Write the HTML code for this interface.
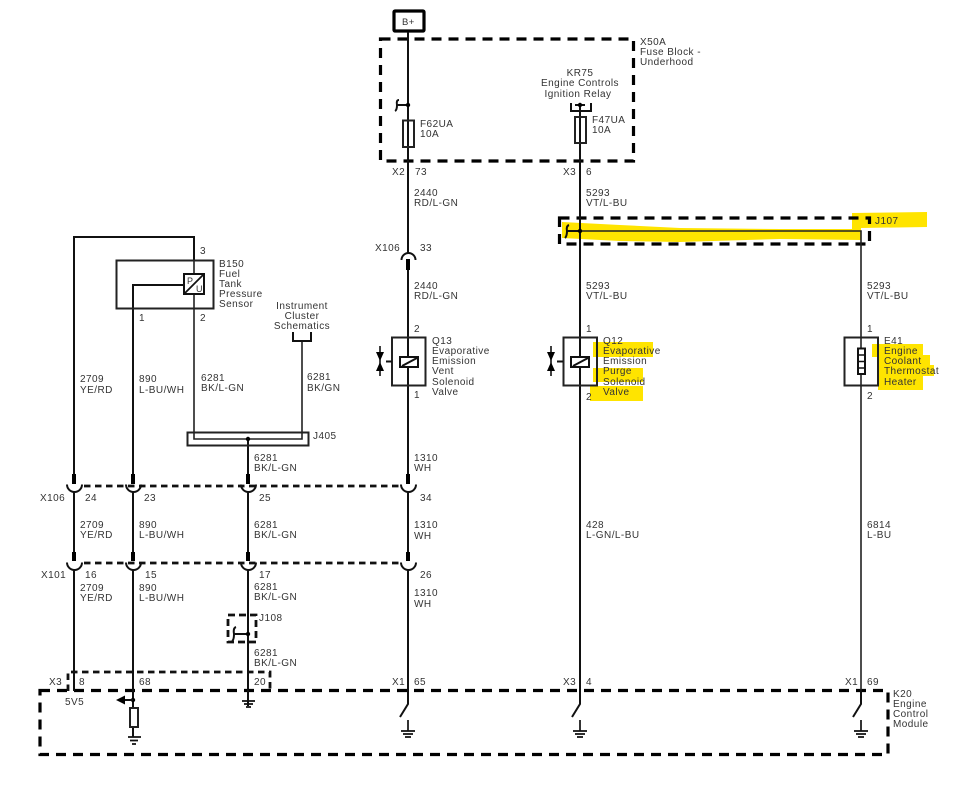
<!DOCTYPE html>
<html><head><meta charset="utf-8"><style>
html,body{margin:0;padding:0;background:#fff;width:965px;height:797px;overflow:hidden}
svg{display:block}
text{font-family:"Liberation Sans",sans-serif;font-size:10px;letter-spacing:.45px;fill:#333}
.m{text-anchor:middle}
.w{stroke:#111;stroke-width:2;fill:none}
.t{stroke:#222;stroke-width:1.6;fill:none}
.x{stroke:#222;stroke-width:2;fill:none}
.b{stroke:#222;stroke-width:2;fill:#fff}
.d{stroke:#000;stroke-width:3.2;fill:none;stroke-dasharray:10 7}
.s{stroke:#111;stroke-width:2.8;fill:none;stroke-dasharray:6.500 4.500}
.c{stroke:#111;stroke-width:2;fill:none}
.k{stroke:#000;stroke-width:4;fill:none}
</style></head><body>
<svg width="965" height="797" viewBox="0 0 965 797" xmlns="http://www.w3.org/2000/svg">
<!-- highlights -->
<g fill="#ffe400">
<polygon points="562,222 620,225 680,228 780,229 852,229 852,213 927,212 927,227 861,228 861,240 780,239 680,242 620,241 562,238"/>
<rect x="593" y="342" width="60" height="15"/>
<rect x="593" y="368" width="50" height="14"/>
<rect x="590" y="386" width="53" height="15"/>
<polygon points="872,344 923,344 923,355 930,355 930,365 934,365 934,376 923,376 923,390 878,390 878,370 877,357 872,357"/>
</g>
<!-- module outlines -->
<rect class="d" x="380.500" y="39" width="253" height="122"/>
<rect class="d" x="559.500" y="218" width="310" height="26"/>
<rect class="d" x="40" y="690.500" width="848" height="64"/>
<path class="s" d="M68 691V672H270V689"/>
<rect class="s" x="228" y="615" width="28" height="27" style="stroke-dasharray:7 4"/>
<path class="s" d="M84 486H401M84 563H401"/>
<!-- B+ -->
<rect x="394" y="11" width="30" height="20" rx="1" fill="#fff" stroke="#000" stroke-width="3.2"/>
<text x="402" y="25" style="font-size:9.500px">B+</text>
<!-- main wires -->
<path class="w" d="M408 32V253M408 270V484M408 492V561M408 570V704L400 717"/>
<path class="w" d="M580 105V704L572 717"/>
<path class="t" d="M580 231H861V704"/>
<path class="w" d="M861 690V704L853 717"/>
<path class="w" d="M74 476V237H194V260"/>
<path class="t" d="M194 260V439H302V341"/>
<path class="w" d="M133 476V285H184"/>
<path class="w" d="M248 439V476M248 492V552M248 570V706"/>
<path class="w" d="M74 492V552M74 570V691"/>
<path class="w" d="M133 492V552M133 570V737"/>
<!-- stubs -->
<path class="k" d="M74 474V484M133 474V484M248 474V484M408 474V484M74 552V561M133 552V561M248 552V561M408 552V561M408 259V270"/>
<!-- fuses -->
<rect class="b" x="403" y="120.500" width="11" height="26.500" style="fill:none"/>
<rect class="b" x="575" y="117" width="11" height="26" style="fill:none"/>
<path class="c" d="M571 111V103M570 111H591V103M575 105H585"/>
<path class="c" d="M397 105H408M399 100Q396 100 397 105Q397 110 395 111"/>
<path class="c" d="M567 231H580M569 225Q566 226 567 231Q567 236 565 238"/>
<path class="c" d="M234 634H248M236 627Q233 628 234 634Q234 640 232 641"/>
<g fill="#000"><circle cx="408" cy="105" r="2.200"/><circle cx="580" cy="105" r="2.200"/><circle cx="580" cy="231" r="2.200"/><circle cx="248" cy="439" r="2.200"/><circle cx="248" cy="634" r="2.200"/><circle cx="133" cy="700" r="2.200"/></g>
<!-- sensor B150 -->
<rect class="x" x="116.500" y="260.500" width="97" height="48"/>
<rect x="184" y="274" width="20" height="20" fill="#fff" stroke="#111" stroke-width="2"/>
<path d="M184 294L204 274" stroke="#111" stroke-width="1.800"/>
<text x="187" y="284" style="font-size:9px">P</text><text x="196" y="292" style="font-size:9px">U</text>
<!-- Instrument bracket -->
<path class="c" d="M293 332V341H311V332"/>
<!-- J405 -->
<rect class="x" x="187.500" y="432.500" width="121" height="13"/>
<!-- connector cups -->
<g class="c">
<path d="M67 484.500a7.500 7.500 0 0 0 15 0M126 484.500a7.500 7.500 0 0 0 15 0M241 484.500a7.500 7.500 0 0 0 15 0M401 484.500a7.500 7.500 0 0 0 15 0"/>
<path d="M67 562.500a7.500 7.500 0 0 0 15 0M126 562.500a7.500 7.500 0 0 0 15 0M241 562.500a7.500 7.500 0 0 0 15 0M401 562.500a7.500 7.500 0 0 0 15 0"/>
<path d="M401.500 260a7 7 0 0 1 14 0"/>
</g>
<!-- Q13 -->
<rect class="x" x="392" y="337.500" width="33.500" height="48"/>
<rect x="400" y="357" width="18" height="10" fill="#fff" stroke="#111" stroke-width="2"/>
<path d="M402 366L417 358M386 361.500H392" stroke="#111" stroke-width="2"/>
<path d="M376 352H384L380 361ZM376 371H384L380 362Z" fill="#000"/>
<path d="M380 346V376" stroke="#000" stroke-width="1.500"/>
<!-- Q12 -->
<rect class="x" x="563.500" y="337.500" width="33.500" height="48"/>
<rect x="571" y="357" width="18" height="10" fill="#fff" stroke="#111" stroke-width="2"/>
<path d="M573 366L588 358M557 361.500H563" stroke="#111" stroke-width="2"/>
<path d="M547 352H555L551 361ZM547 371H555L551 362Z" fill="#000"/>
<path d="M551 346V376" stroke="#000" stroke-width="1.500"/>
<!-- E41 -->
<rect class="x" x="844.500" y="337.500" width="33.500" height="48"/>
<rect x="858" y="348.500" width="7" height="25.500" fill="#fff" stroke="#111" stroke-width="2"/>
<path d="M858 355H865M858 361.500H865M858 368H865" stroke="#111" stroke-width="1.500"/>
<!-- pullup / resistor -->
<path d="M133 700H123" stroke="#111" stroke-width="2"/>
<path d="M116 700L125 695.500V704.500Z" fill="#000"/>
<rect class="b" x="130" y="708" width="8" height="19"/>
<!-- grounds -->
<g stroke="#111" stroke-width="1.700" fill="none">
<path d="M242 701H255M244 704H253M246 707H251"/>
<path d="M128 737H141M130 740.500H138M132 744H136"/>
<path d="M408 720V731M401 731H415M403 734H413M405 737H411"/>
<path d="M580 720V731M573 731H587M575 734H585M577 737H583"/>
<path d="M861 720V731M854 731H868M856 734H866M858 737H864"/>
</g>
<!-- labels -->
<text x="640" y="45">X50A</text><text x="640" y="55">Fuse Block -</text><text x="640" y="65">Underhood</text>
<text class="m" x="580" y="76">KR75</text><text class="m" x="580" y="86">Engine Controls</text><text class="m" x="578" y="97">Ignition Relay</text>
<text x="420" y="127">F62UA</text><text x="420" y="137">10A</text>
<text x="592" y="123">F47UA</text><text x="592" y="133">10A</text>
<text x="392" y="175">X2</text><text x="415" y="175">73</text>
<text x="563" y="175">X3</text><text x="586" y="175">6</text>
<text x="414" y="196">2440</text><text x="414" y="206">RD/L-GN</text>
<text x="586" y="196">5293</text><text x="586" y="206">VT/L-BU</text>
<text x="875" y="224">J107</text>
<text x="375" y="251">X106</text><text x="420" y="251">33</text>
<text x="414" y="289">2440</text><text x="414" y="299">RD/L-GN</text>
<text x="586" y="289">5293</text><text x="586" y="299">VT/L-BU</text>
<text x="867" y="289">5293</text><text x="867" y="299">VT/L-BU</text>
<text x="414" y="332">2</text><text x="414" y="398">1</text>
<text x="586" y="332">1</text><text x="586" y="400">2</text>
<text x="867" y="332">1</text><text x="867" y="399">2</text>
<text x="432" y="344">Q13</text><text x="432" y="354">Evaporative</text><text x="432" y="364">Emission</text><text x="432" y="374">Vent</text><text x="432" y="385">Solenoid</text><text x="432" y="395">Valve</text>
<text x="603" y="344">Q12</text><text x="603" y="354">Evaporative</text><text x="603" y="364">Emission</text><text x="603" y="374">Purge</text><text x="603" y="385">Solenoid</text><text x="603" y="395">Valve</text>
<text x="884" y="344">E41</text><text x="884" y="354">Engine</text><text x="884" y="364">Coolant</text><text x="884" y="374">Thermostat</text><text x="884" y="385">Heater</text>
<text x="200" y="254">3</text><text x="139" y="321">1</text><text x="200" y="321">2</text>
<text x="219" y="267">B150</text><text x="219" y="277">Fuel</text><text x="219" y="287">Tank</text><text x="219" y="297">Pressure</text><text x="219" y="307">Sensor</text>
<text class="m" x="302" y="309">Instrument</text><text class="m" x="302" y="319">Cluster</text><text class="m" x="302" y="329">Schematics</text>
<text x="80" y="382">2709</text><text x="80" y="393">YE/RD</text>
<text x="139" y="382">890</text><text x="139" y="393">L-BU/WH</text>
<text x="201" y="381">6281</text><text x="201" y="391">BK/L-GN</text>
<text x="307" y="380">6281</text><text x="307" y="391">BK/GN</text>
<text x="313" y="439">J405</text>
<text x="254" y="461">6281</text><text x="254" y="471">BK/L-GN</text>
<text x="414" y="461">1310</text><text x="414" y="471">WH</text>
<text x="40" y="501">X106</text><text x="85" y="501">24</text><text x="144" y="501">23</text><text x="259" y="501">25</text><text x="420" y="501">34</text>
<text x="80" y="528">2709</text><text x="80" y="538">YE/RD</text>
<text x="139" y="528">890</text><text x="139" y="538">L-BU/WH</text>
<text x="254" y="528">6281</text><text x="254" y="538">BK/L-GN</text>
<text x="414" y="528">1310</text><text x="414" y="539">WH</text>
<text x="586" y="528">428</text><text x="586" y="538">L-GN/L-BU</text>
<text x="867" y="528">6814</text><text x="867" y="538">L-BU</text>
<text x="41" y="578">X101</text><text x="85" y="578">16</text><text x="145" y="578">15</text><text x="259" y="578">17</text><text x="420" y="578">26</text>
<text x="80" y="591">2709</text><text x="80" y="601">YE/RD</text>
<text x="139" y="591">890</text><text x="139" y="601">L-BU/WH</text>
<text x="254" y="590">6281</text><text x="254" y="600">BK/L-GN</text>
<text x="414" y="596">1310</text><text x="414" y="607">WH</text>
<text x="259" y="621">J108</text>
<text x="254" y="656">6281</text><text x="254" y="666">BK/L-GN</text>
<text x="49" y="685">X3</text><text x="79" y="685">8</text><text x="139" y="685">68</text><text x="254" y="685">20</text>
<text x="392" y="685">X1</text><text x="414" y="685">65</text>
<text x="563" y="685">X3</text><text x="586" y="685">4</text>
<text x="845" y="685">X1</text><text x="867" y="685">69</text>
<text x="65" y="705">5V5</text>
<text x="893" y="697">K20</text><text x="893" y="707">Engine</text><text x="893" y="717">Control</text><text x="893" y="727">Module</text>
</svg>
</body></html>
